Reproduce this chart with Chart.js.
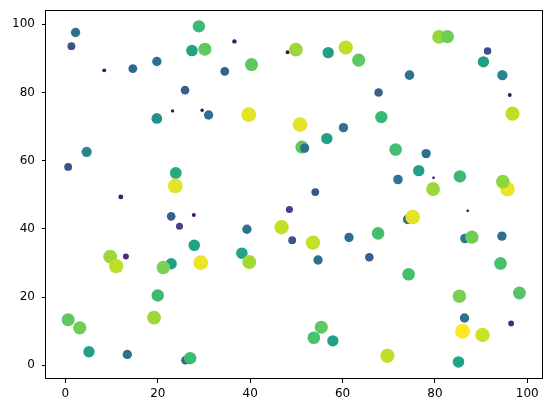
<!DOCTYPE html>
<html>
<head>
<meta charset="utf-8">
<script src="https://cdn.jsdelivr.net/npm/chart.js@4/dist/chart.umd.min.js"></script>
<style>
    body { margin: 0; background: #fff; }
    #wrap { width: 552px; height: 413px; }
</style>
</head>
<body>
<div id="wrap"><canvas id="chart" width="552" height="413"></canvas></div>
<script>
// scatter data: x, y and the colour value (0..1, also drives marker area)
const xValues = [
    2.2, 1.3, 8.4, 14.6, 19.8, 28.9, 27.4, 30.2, 36.6, 34.5,
    40.3, 48.1, 49.9, 25.9, 19.8, 23.2, 29.6, 31.0, 39.7, 50.8,
    56.9, 60.7, 63.5, 80.9, 82.7, 91.4, 90.5, 94.6, 96.2, 96.8,
    74.5, 67.8, 68.4, 60.2, 4.6, 0.6, 23.9, 23.8, 12.0, 27.8,
    22.9, 24.7, 39.3, 46.8, 48.5, 49.1, 51.2, 51.8, 27.9, 38.2,
    39.8, 9.7, 13.1, 11.0, 22.9, 21.2, 29.3, 20.0, 19.2, 0.6,
    3.1, 5.1, 13.4, 26.0, 27.0, 56.6, 71.5, 78.1, 76.5, 72.0,
    79.7, 85.4, 79.6, 95.7, 94.7, 54.1, 74.1, 75.2, 87.1, 53.6,
    61.4, 67.7, 86.5, 88.0, 94.5, 54.7, 65.8, 94.2, 74.3, 85.3,
    98.3, 86.4, 96.5, 86.0, 90.3, 55.4, 53.8, 57.9, 69.7, 85.1
];
const yValues = [
    97.6, 93.6, 86.5, 87.0, 89.1, 99.4, 92.3, 92.7, 95.0, 86.2,
    88.2, 91.8, 92.6, 80.7, 72.4, 74.6, 74.8, 73.4, 73.5, 70.6,
    91.7, 93.2, 89.5, 96.3, 96.4, 92.2, 89.0, 85.1, 79.3, 73.8,
    85.1, 80.0, 72.8, 69.7, 62.6, 58.2, 56.4, 52.6, 49.4, 44.1,
    43.7, 40.8, 39.9, 40.5, 45.7, 36.7, 64.0, 63.7, 35.2, 32.9,
    30.3, 31.9, 31.9, 29.1, 29.8, 28.7, 30.1, 20.5, 14.0, 13.4,
    11.0, 4.0, 3.2, 1.5, 2.1, 66.5, 63.3, 62.1, 57.1, 54.5,
    55.0, 55.4, 51.7, 51.7, 53.9, 50.8, 42.8, 43.5, 45.3, 36.0,
    37.5, 38.7, 37.2, 37.6, 37.9, 30.9, 31.7, 29.9, 26.7, 20.3,
    21.2, 13.9, 12.3, 10.0, 8.9, 11.2, 8.1, 7.2, 2.8, 1.0
];
const zValues = [
    0.37, 0.25, 0.04, 0.33, 0.37, 0.68, 0.58, 0.75, 0.06, 0.31,
    0.75, 0.04, 0.85, 0.31, 0.50, 0.02, 0.02, 0.37, 0.96, 0.96,
    0.56, 0.90, 0.75, 0.84, 0.78, 0.23, 0.56, 0.45, 0.04, 0.90,
    0.39, 0.31, 0.67, 0.37, 0.45, 0.25, 0.61, 0.96, 0.08, 0.04,
    0.31, 0.20, 0.37, 0.91, 0.20, 0.25, 0.75, 0.36, 0.58, 0.58,
    0.86, 0.85, 0.13, 0.90, 0.56, 0.80, 0.97, 0.68, 0.85, 0.75,
    0.78, 0.56, 0.37, 0.31, 0.68, 0.56, 0.70, 0.37, 0.56, 0.39,
    0.00, 0.68, 0.85, 0.97, 0.83, 0.25, 0.39, 0.96, 0.00, 0.91,
    0.37, 0.70, 0.39, 0.78, 0.37, 0.37, 0.31, 0.71, 0.70, 0.80,
    0.73, 0.37, 0.12, 1.00, 0.92, 0.75, 0.71, 0.56, 0.90, 0.58
];
const tickValues = [0, 20, 40, 60, 80, 100];

const viridisStops = ['#440154', '#482475', '#414487', '#355f8d', '#2a788e', '#21918c',
    '#22a884', '#44bf70', '#7ad151', '#bddf26', '#fde725'];

function hexToRgb(h) {
    return [parseInt(h.slice(1, 3), 16), parseInt(h.slice(3, 5), 16), parseInt(h.slice(5, 7), 16)];
}

function viridis(t) {
    const pos = Math.min(Math.max(t, 0), 1) * (viridisStops.length - 1);
    const i = Math.min(Math.floor(pos), viridisStops.length - 2);
    const f = pos - i;
    const a = hexToRgb(viridisStops[i]);
    const b = hexToRgb(viridisStops[i + 1]);
    const c = a.map((v, k) => Math.round(v + (b[k] - v) * f));
    return `rgb(${c[0]}, ${c[1]}, ${c[2]})`;
}

const points = xValues.map((x, i) => ({ x: x, y: yValues[i] }));
const colors = zValues.map(viridis);
// marker area grows linearly with the colour value
const radii = zValues.map(z => Math.sqrt(1.3 * 1.3 + z * (7.5 * 7.5 - 1.3 * 1.3)));

const frame = {
    id: 'frame',
    afterDraw(chart) {
        const { ctx, chartArea } = chart;
        ctx.save();
        ctx.strokeStyle = '#000';
        ctx.lineWidth = 1;
        ctx.strokeRect(Math.round(chartArea.left) - 0.5, Math.round(chartArea.top) + 0.5,
            Math.round(chartArea.right - chartArea.left), Math.round(chartArea.bottom - chartArea.top) - 1);
        ctx.restore();
    }
};

// no extra room for half-labels: the frame sits where matplotlib put it
function noPadding(s) {
    s.paddingTop = 0;
    s.paddingBottom = 0;
    s.paddingLeft = 0;
    s.paddingRight = 0;
}

const tickFont = { family: 'DejaVu Sans', size: 12 };

new Chart(document.getElementById('chart'), {
    type: 'scatter',
    data: {
        datasets: [{
            data: points,
            pointBackgroundColor: colors,
            pointRadius: radii,
            pointHoverRadius: radii,
            pointBorderWidth: 0
        }]
    },
    options: {
        responsive: false,
        animation: false,
        devicePixelRatio: 1,
        layout: { padding: { left: 0, top: 10, right: 9, bottom: 0 } },
        plugins: { legend: { display: false }, tooltip: { enabled: false } },
        events: [],
        scales: {
            x: {
                type: 'linear',
                min: -4.2,
                max: 103.4,
                afterFit: s => { s.height = 34; noPadding(s); },
                afterBuildTicks: s => { s.ticks = tickValues.map(v => ({ value: v })); },
                ticks: { color: '#000', font: tickFont, padding: 4, maxRotation: 0 },
                grid: { drawOnChartArea: false, drawTicks: true, tickLength: 4, color: '#000' },
                border: { display: false }
            },
            y: {
                type: 'linear',
                min: -4.0,
                max: 104.2,
                afterFit: s => { s.width = 46; noPadding(s); },
                afterBuildTicks: s => { s.ticks = tickValues.map(v => ({ value: v })); },
                ticks: { color: '#000', font: tickFont, padding: 7 },
                grid: { drawOnChartArea: false, drawTicks: true, tickLength: 4, color: '#000' },
                border: { display: false }
            }
        }
    },
    plugins: [frame]
});
</script>
</body>
</html>
